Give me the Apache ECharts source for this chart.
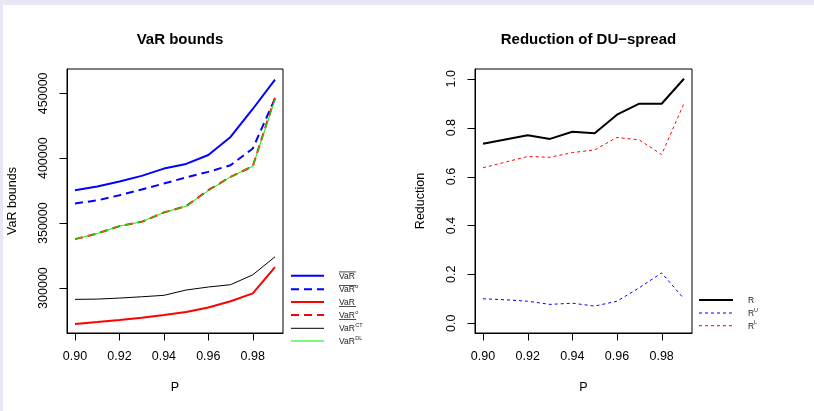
<!DOCTYPE html>
<html><head><meta charset="utf-8">
<script src="https://cdn.jsdelivr.net/npm/echarts@6/dist/echarts.min.js"></script>
<style>
html,body{margin:0;padding:0;background:#e6e6f4;}
#wrap{position:absolute;left:3px;top:5px;width:811px;height:406px;background:#fff;}
#c{position:absolute;left:-3px;top:-5px;width:814px;height:411px;}
</style></head>
<body><div id="wrap"><div id="c"></div></div>
<script>
// ---- data ----
var P = [0.90, 0.91, 0.92, 0.93, 0.94, 0.95, 0.96, 0.97, 0.98, 0.99];
var varUpper  = [375400, 378200, 382000, 386400, 392000, 395600, 402500, 416400, 437900, 460500];
var varUpperO = [365200, 367500, 371500, 375900, 380500, 385200, 389500, 394600, 407500, 446000];
var varLower  = [272300, 273800, 275400, 277200, 279200, 281500, 285100, 289800, 295900, 316200];
var varLowerO = [337700, 342000, 347700, 351000, 358200, 363100, 375400, 385600, 393800, 446500];
var varCT     = [291300, 291500, 292300, 293300, 294400, 298500, 300800, 302600, 310200, 324100];
var varDL     = [337700, 342000, 347700, 351000, 358200, 363100, 375000, 385600, 393800, 445500];
var R  = [0.734, 0.752, 0.769, 0.754, 0.783, 0.777, 0.853, 0.898, 0.898, 1.000];
var RU = [0.100, 0.096, 0.090, 0.077, 0.082, 0.070, 0.090, 0.145, 0.206, 0.100];
var RL = [0.636, 0.659, 0.682, 0.679, 0.698, 0.709, 0.760, 0.750, 0.690, 0.899];
var xTicks = [0.90, 0.92, 0.94, 0.96, 0.98];
var yTicksL = [300000, 350000, 400000, 450000];
var yTicksR = [0.0, 0.2, 0.4, 0.6, 0.8, 1.0];

function pairs(ys){ return P.map(function(p,i){ return [p, ys[i]]; }); }

var FONT = 'Liberation Sans, Arial, Helvetica, sans-serif';
var chart = echarts.init(document.getElementById('c'), null, {renderer:'canvas'});

var X_MIN = 0.8964, X_MAX = 0.9936;
var Y_EXT = [[265400, 468700], [-0.04, 1.04]];

function xAxisDef(gi){
  return {
    type:'value', gridIndex:gi, min:X_MIN, max:X_MAX, position:'bottom',
    name:'P', nameLocation:'middle', nameGap:48,
    nameTextStyle:{fontFamily:FONT, fontSize:12.5, color:'#000'},
    axisLine:{show:true, onZero:false, lineStyle:{color:'#000', width:1}},
    splitLine:{show:false},
    axisTick:{show:false},
    axisLabel:{show:true, margin:17, customValues:xTicks, fontFamily:FONT, fontSize:12.5, color:'#000',
      formatter:function(v){ return v.toFixed(2); }}
  };
}
function yAxisDef(gi, nm, ticks, fmt){
  return {type:'value', gridIndex:gi, min:Y_EXT[gi][0], max:Y_EXT[gi][1], position:'left',
    name:nm, nameLocation:'middle', nameGap:48,
    nameTextStyle:{fontFamily:FONT, fontSize:12.5, color:'#000'},
    axisLine:{show:true, onZero:false, lineStyle:{color:'#000', width:1}}, splitLine:{show:false},
    axisTick:{show:false},
    axisLabel:{show:true, rotate:90, margin:17, customValues:ticks, fontFamily:FONT, fontSize:12.5, color:'#000',
      formatter:fmt}
  };
}

var blue='#0000ff', red='#ff0000', green='#00ee00', black='#000000';

var option = {
  animation:false,
  backgroundColor:'transparent',
  title:[
    {text:'VaR bounds', left:175, top:27, textAlign:'center',
      textStyle:{fontFamily:FONT, fontSize:15, fontWeight:'bold', color:'#000'}},
    {text:'Reduction of DU\u2212spread', left:583.5, top:27, textAlign:'center',
      textStyle:{fontFamily:FONT, fontSize:15, fontWeight:'bold', color:'#000'}}
  ],
  grid:[
    {left:67, top:69, width:216, height:264, show:true, borderColor:'#000', borderWidth:1, backgroundColor:'transparent'},
    {left:475, top:69, width:217, height:264, show:true, borderColor:'#000', borderWidth:1, backgroundColor:'transparent'}
  ],
  xAxis:[xAxisDef(0), xAxisDef(1)],
  yAxis:[
    yAxisDef(0, 'VaR bounds', yTicksL, function(v){ return String(v); }),
    yAxisDef(1, 'Reduction', yTicksR, function(v){ return v.toFixed(1); })
  ],
  series:[
    {type:'line', xAxisIndex:0, yAxisIndex:0, data:pairs(varUpper), symbol:'none', lineStyle:{color:blue, width:2}},
    {type:'line', xAxisIndex:0, yAxisIndex:0, data:pairs(varUpperO), symbol:'none', lineStyle:{color:blue, width:2, type:[8,5]}},
    {type:'line', xAxisIndex:0, yAxisIndex:0, data:pairs(varLower), symbol:'none', lineStyle:{color:red, width:2}},
    {type:'line', xAxisIndex:0, yAxisIndex:0, data:pairs(varLowerO), symbol:'none', lineStyle:{color:red, width:2, type:[8,5]}},
    {type:'line', xAxisIndex:0, yAxisIndex:0, data:pairs(varCT), symbol:'none', lineStyle:{color:black, width:1}},
    {type:'line', xAxisIndex:0, yAxisIndex:0, data:pairs(varDL), symbol:'none', lineStyle:{color:green, width:1}},
    {type:'line', xAxisIndex:1, yAxisIndex:1, data:pairs(R), symbol:'none', lineStyle:{color:black, width:2}},
    {type:'line', xAxisIndex:1, yAxisIndex:1, data:pairs(RU), symbol:'none', lineStyle:{color:blue, width:1, type:[3,3]}},
    {type:'line', xAxisIndex:1, yAxisIndex:1, data:pairs(RL), symbol:'none', lineStyle:{color:red, width:1, type:[3,3]}}
  ]
};

// ---- legends (graphic) ----
var g = [];
var LFS = 8.5, TC = '#222';
function legLine(x1,x2,y,color,w,dash){
  g.push({type:'line', shape:{x1:x1,y1:y,x2:x2,y2:y}, style:{stroke:color, lineWidth:w, lineDash:dash||null}, silent:true});
}
function legText(x,y,t,fs){
  g.push({type:'text', x:x, y:y, style:{text:t, fontFamily:FONT, fontSize:fs||LFS, fill:TC, verticalAlign:'middle', align:'left'}, silent:true});
}
var rowsL = [275.7, 289.3, 302, 315, 328.3, 341];
var specL = [
  {c:blue, w:2, d:null, sup:'', deco:'over'},
  {c:blue, w:2, d:[8,5], sup:'o', deco:'over'},
  {c:red, w:2, d:null, sup:'', deco:'under'},
  {c:red, w:2, d:[8,5], sup:'o', deco:'under'},
  {c:black, w:1, d:null, sup:'CT', deco:''},
  {c:green, w:1, d:null, sup:'DL', deco:''}
];
specL.forEach(function(s,i){
  var y = rowsL[i];
  legLine(291, 324, y, s.c, s.w, s.d);
  legText(339, y+0.7, 'VaR');
  if (s.sup) legText(355.3, y-3, s.sup, 5.5);
  if (s.deco==='over') g.push({type:'line', shape:{x1:339,y1:y-3.8,x2:356,y2:y-3.8}, style:{stroke:TC, lineWidth:0.8}, silent:true});
  if (s.deco==='under') g.push({type:'line', shape:{x1:339,y1:y+4.5,x2:356,y2:y+4.5}, style:{stroke:TC, lineWidth:0.8}, silent:true});
});
var rowsR = [300, 313, 325.7];
var specR = [
  {c:black, w:2, d:null, sup:''},
  {c:blue, w:1, d:[3,3], sup:'U'},
  {c:red, w:1, d:[3,3], sup:'L'}
];
specR.forEach(function(s,i){
  var y = rowsR[i];
  legLine(699, 733, y, s.c, s.w, s.d);
  legText(748, y+0.7, 'R');
  if (s.sup) legText(754, y-3, s.sup, 5.5);
});
option.graphic = g;
chart.setOption(option);

// ---- axis ticks, positioned through the axes' scales ----
function lmap(v, d, r){
  if (echarts.number && echarts.number.linearMap) return echarts.number.linearMap(v, d, r, true);
  return r[0] + (v - d[0]) / (d[1] - d[0]) * (r[1] - r[0]);
}
function toPx(gi, x, y){
  var p = null;
  try { p = chart.convertToPixel({gridIndex:gi}, [x, y]); } catch(e) { p = null; }
  if (!p || !isFinite(p[0]) || !isFinite(p[1])) {
    var gr = option.grid[gi];
    p = [lmap(x, [X_MIN, X_MAX], [gr.left, gr.left + gr.width]),
         lmap(y, Y_EXT[gi], [gr.top + gr.height, gr.top])];
  }
  return p;
}
var TL = 7.5;
var ticksG = [];
[0,1].forEach(function(gi){
  var ymin = Y_EXT[gi][0];
  xTicks.forEach(function(v){
    var p = toPx(gi, v, ymin);
    var x = Math.round(p[0]) + 0.5, y = Math.round(p[1]);
    ticksG.push({type:'line', z:100, shape:{x1:x, y1:y, x2:x, y2:y + TL}, style:{stroke:'#000', lineWidth:1}, silent:true});
  });
  (gi===0 ? yTicksL : yTicksR).forEach(function(v){
    var p = toPx(gi, X_MIN, v);
    var x = Math.round(p[0]), y = Math.round(p[1]) + 0.5;
    ticksG.push({type:'line', z:100, shape:{x1:x - TL, y1:y, x2:x, y2:y}, style:{stroke:'#000', lineWidth:1}, silent:true});
  });
});
chart.setOption({graphic:g.concat(ticksG)});
</script>
</body></html>
